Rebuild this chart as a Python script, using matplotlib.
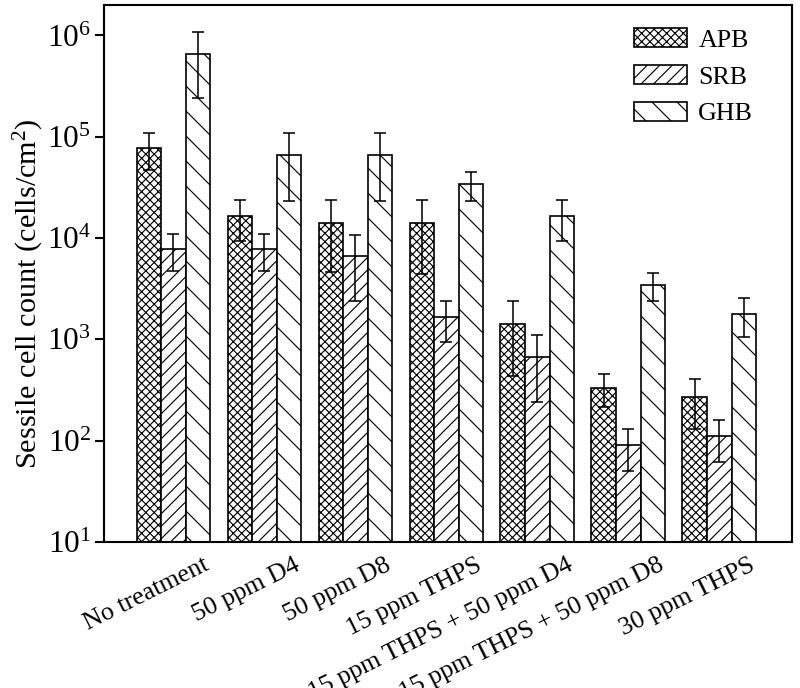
import matplotlib
matplotlib.use('Agg')
import matplotlib.pyplot as plt
import matplotlib.transforms as mtransforms
from matplotlib.ticker import NullLocator, FixedLocator
import numpy as np

plt.rcParams['font.family'] = ['Liberation Serif', 'DejaVu Serif']
plt.rcParams['mathtext.fontset'] = 'custom'
plt.rcParams['mathtext.rm'] = 'Liberation Serif'
plt.rcParams['mathtext.it'] = 'Liberation Serif:italic'
plt.rcParams['hatch.linewidth'] = 1.1

# 数据：各处理下的附着细胞数量 (cells/cm2)
treatments = ['No treatment', '50 ppm D4', '50 ppm D8', '15 ppm THPS',
              '15 ppm THPS + 50 ppm D4', '15 ppm THPS + 50 ppm D8', '30 ppm THPS']
apb = [7.75e4, 1.65e4, 1.41e4, 1.41e4, 1.41e3, 333, 269]
apb_err = [3.1e4, 7.2e3, 9.5e3, 9.7e3, 970, 118, 140]
srb = [7.8e3, 7.8e3, 6.6e3, 1.67e3, 671, 90.6, 111]
srb_err = [3.1e3, 3.1e3, 4.2e3, 720, 430, 40, 50]
ghb = [6.6e5, 6.6e4, 6.6e4, 3.44e4, 1.65e4, 3.47e3, 1.8e3]
ghb_err = [4.2e5, 4.3e4, 4.3e4, 1.1e4, 7.2e3, 1.1e3, 750]
series_names = ['APB', 'SRB', 'GHB']

DPI = 75
fig = plt.figure(figsize=(800 / DPI, 688 / DPI), dpi=DPI)
ax = fig.add_axes([104 / 800, 1 - 542 / 688, (792 - 104) / 800, (542 - 5) / 688])

x = np.arange(len(treatments))
w = 0.27
hatches = ['xxx', '//', '\\']
for i, (vals, errs, h, name) in enumerate(zip([apb, srb, ghb], [apb_err, srb_err, ghb_err],
                                              hatches, series_names)):
    ax.bar(x + (i - 1) * w, vals, w, facecolor='white', edgecolor='black',
           linewidth=1.6, hatch=h, label=name, zorder=2)
    ax.errorbar(x + (i - 1) * w, vals, yerr=errs, fmt='none', ecolor='black',
                elinewidth=1.5, capsize=5.3, capthick=1.5, zorder=3)

ax.set_yscale('log')
ax.set_ylim(10, 2e6)
ax.set_xlim(-0.764, 6.80)
ax.yaxis.set_major_locator(FixedLocator([1e1, 1e2, 1e3, 1e4, 1e5, 1e6]))
ax.yaxis.set_minor_locator(NullLocator())
ax.set_yticklabels([r'$10^{%d}$' % k for k in range(1, 7)])
ax.tick_params(axis='y', direction='out', length=8.5, width=2, labelsize=30, pad=4)
ax.tick_params(axis='x', length=0, labelsize=25, pad=0)

ax.set_xticks(x)
ax.set_xticklabels(treatments, rotation=26.5, ha='right', va='top', rotation_mode='anchor')
offset = mtransforms.ScaledTranslation(29 / DPI, -12 / DPI, fig.dpi_scale_trans)
for lab in ax.get_xticklabels():
    lab.set_transform(lab.get_transform() + offset)

ax.set_ylabel(r'Sessile cell count (cells/cm$^{2}$)', fontsize=29)
ax.yaxis.set_label_coords(-0.085, 0.462)

for sp in ax.spines.values():
    sp.set_linewidth(2)

ax.legend(loc='upper left', bbox_to_anchor=(634 / 800, 1 - 28 / 688),
          bbox_transform=fig.transFigure, frameon=False, fontsize=25,
          borderpad=0, borderaxespad=0, handlelength=2.05, handleheight=0.77,
          handletextpad=0.42, labelspacing=0.5)

fig.savefig('out.png', dpi=DPI)
